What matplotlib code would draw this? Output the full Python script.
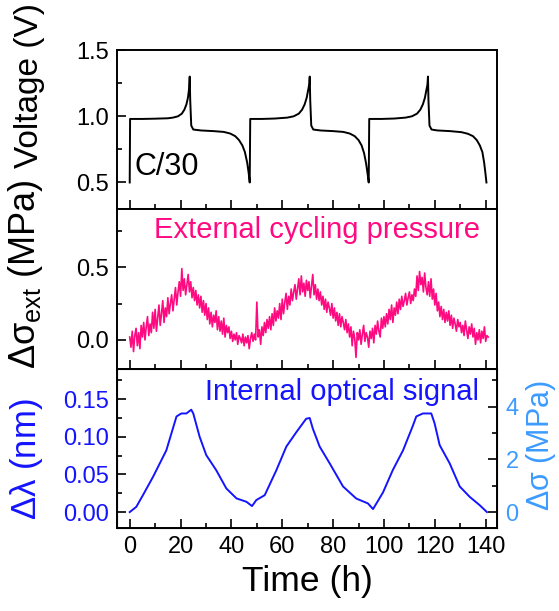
import matplotlib
matplotlib.use("Agg")
import matplotlib.pyplot as plt
from matplotlib.ticker import MultipleLocator
import numpy as np

plt.rcParams['font.family'] = ['Liberation Sans', 'DejaVu Sans']
plt.rcParams['mathtext.fontset'] = 'custom'
plt.rcParams['mathtext.rm'] = 'Liberation Sans'
plt.rcParams['mathtext.it'] = 'Liberation Sans'

# --- voltage (V) vs time (h)
t_volt = [0, 0.15, 5, 10, 15, 17, 19, 20.5, 21.5, 22.3, 22.9, 23.3, 23.6, 23.8, 24.2, 25,
          28, 33, 37, 39.5, 41.5, 43, 44.3, 45.3, 46.2, 46.8, 47.2,
          47.4, 52, 57, 62, 64.5, 66.5, 67.8, 68.8, 69.6, 70.2, 70.6, 70.8, 71.0, 71.4, 72.2,
          75, 80, 84, 86.5, 88.5, 90, 91.2, 92.2, 93.0, 93.6, 94.0,
          94.2, 99, 104, 108.5, 111, 113, 114.3, 115.3, 116.1, 116.7, 117.1, 117.3, 117.5, 117.9, 118.7,
          121, 126, 130.5, 133, 135, 136.5, 137.7, 138.7, 139.4, 139.9, 140.3]
volt = [0.50, 0.98, 0.98, 0.982, 0.985, 0.99, 1.0, 1.02, 1.05, 1.09, 1.14, 1.2, 1.30, 1.12, 0.93, 0.90,
        0.893, 0.888, 0.882, 0.87, 0.85, 0.82, 0.78, 0.73, 0.65, 0.57, 0.50,
        0.98, 0.98, 0.983, 0.99, 1.0, 1.02, 1.05, 1.09, 1.14, 1.2, 1.24, 1.30, 1.12, 0.93, 0.90,
        0.893, 0.888, 0.882, 0.87, 0.85, 0.82, 0.78, 0.72, 0.64, 0.56, 0.50,
        0.98, 0.98, 0.983, 0.99, 1.0, 1.02, 1.05, 1.09, 1.14, 1.2, 1.24, 1.30, 1.12, 0.93, 0.90,
        0.893, 0.888, 0.88, 0.868, 0.85, 0.82, 0.78, 0.73, 0.65, 0.57, 0.50]

# --- external cycling pressure (MPa), sampled every 0.5 h
t_ext = np.arange(0, 141.01, 0.5)
p_ext = [0.02, -0.05, 0.06, -0.08, 0.03, 0.08, -0.04, 0.05, -0.06, 0.10,
         0.02, 0.12, 0.00, 0.09, 0.16, 0.03, 0.11, 0.05, 0.19, 0.08,
         0.21, 0.06, 0.15, 0.24, 0.10, 0.18, 0.27, 0.12, 0.22, 0.16,
         0.29, 0.18, 0.25, 0.31, 0.20, 0.28, 0.36, 0.24, 0.33, 0.40,
         0.30, 0.49, 0.34, 0.42, 0.31, 0.38, 0.45, 0.33, 0.40, 0.29,
         0.36, 0.27, 0.34, 0.24, 0.31, 0.22, 0.30, 0.19, 0.27, 0.17,
         0.25, 0.14, 0.22, 0.11, 0.19, 0.09, 0.17, 0.12, 0.20, 0.07,
         0.16, 0.06, 0.13, 0.04, 0.15, 0.02, 0.10, 0.05, 0.09, 0.01,
         0.06, -0.01, 0.04, 0.00, 0.05, -0.03, 0.03, 0.01, -0.02, 0.04,
         -0.04, 0.02, -0.02, 0.03, -0.06, 0.01, 0.05, -0.01, 0.04, 0.00,
         0.26, 0.02, 0.07, -0.03, 0.09, 0.03, 0.12, 0.05, 0.14, 0.08,
         0.16, 0.07, 0.18, 0.10, 0.22, 0.13, 0.20, 0.15, 0.25, 0.14,
         0.28, 0.18, 0.26, 0.32, 0.21, 0.30, 0.24, 0.35, 0.27, 0.33,
         0.38, 0.28, 0.35, 0.42, 0.31, 0.44, 0.33, 0.39, 0.30, 0.41,
         0.34, 0.40, 0.29, 0.37, 0.45, 0.31, 0.38, 0.28, 0.35, 0.27,
         0.33, 0.24, 0.30, 0.21, 0.28, 0.19, 0.26, 0.22, 0.17, 0.25,
         0.15, 0.22, 0.13, 0.19, 0.10, 0.18, 0.09, 0.16, 0.12, 0.07,
         0.14, 0.05, 0.11, 0.02, 0.09, -0.04, 0.06, 0.01, -0.12, 0.05,
         0.00, 0.07, -0.03, 0.04, 0.10, -0.01, 0.05, 0.02, -0.05, 0.06,
         0.01, 0.08, -0.02, 0.10, 0.04, 0.13, 0.06, 0.02, 0.15, 0.08,
         0.16, 0.09, 0.18, 0.11, 0.21, 0.14, 0.24, 0.12, 0.22, 0.17,
         0.26, 0.18, 0.28, 0.21, 0.30, 0.23, 0.27, 0.32, 0.24, 0.29,
         0.33, 0.25, 0.31, 0.27, 0.35, 0.30, 0.44, 0.34, 0.47, 0.38,
         0.43, 0.33, 0.46, 0.36, 0.31, 0.40, 0.30, 0.42, 0.28, 0.35,
         0.24, 0.32, 0.20, 0.26, 0.16, 0.23, 0.14, 0.21, 0.12, 0.19,
         0.13, 0.20, 0.10, 0.17, 0.08, 0.15, 0.11, 0.06, 0.14, 0.09,
         0.12, 0.05, 0.10, 0.03, 0.13, 0.07, 0.01, 0.09, 0.04, 0.11,
         0.02, 0.08, -0.03, 0.05, 0.00, 0.07, -0.02, 0.06, 0.01, 0.09,
         -0.01, 0.03, 0.02]

# --- internal optical signal, wavelength shift (nm)
t_opt = [0, 2.6, 5.2, 9.2, 14.4, 18.4, 20.3, 22.3, 24.2, 25.0, 27.5, 30.1, 34.0, 38.0, 42.0,
         45.9, 48.1, 49.8, 53.1, 57.7, 61.6, 65.5, 69.4, 70.8, 72.0, 74.7, 78.6, 83.9, 89.1,
         93.7, 95.7, 99.6, 103.5, 107.5, 111.4, 112.7, 115.3, 118.6, 119.9, 121.9, 125.8,
         129.8, 133.7, 137.6, 140.5]
d_lambda = [0.000, 0.007, 0.0225, 0.047, 0.082, 0.127, 0.131, 0.131, 0.136, 0.131, 0.100,
            0.0757, 0.0558, 0.0314, 0.0182, 0.0137, 0.008, 0.016, 0.0225, 0.0558, 0.087,
            0.106, 0.124, 0.125, 0.111, 0.087, 0.065, 0.034, 0.018, 0.0115, 0.004, 0.026,
            0.056, 0.082, 0.115, 0.127, 0.131, 0.131, 0.118, 0.089, 0.065, 0.034, 0.0203,
            0.0093, 0.000]

pink = '#ff0a80'
blue = '#1414ff'
lblue = '#3d9bff'

fig = plt.figure(figsize=(5.59, 6.11), dpi=100)
L, W = 0.2093, 0.680
ax1 = fig.add_axes([L, 0.658, W, 0.260])
ax2 = fig.add_axes([L, 0.396, W, 0.262])
ax3 = fig.add_axes([L, 0.136, W, 0.260])

for ax in (ax1, ax2, ax3):
    ax.set_xlim(-5, 144.5)
    ax.xaxis.set_major_locator(MultipleLocator(20))
    ax.xaxis.set_minor_locator(MultipleLocator(10))
    ax.tick_params(which='both', direction='in', top=False, right=False,
                   labelsize=17, width=1.2, pad=6)
    ax.tick_params(which='major', length=6.5)
    ax.tick_params(which='minor', length=3.5)
    for s in ax.spines.values():
        s.set_linewidth(1.4)

ax1.plot(t_volt, volt, color='black', lw=1.4)
ax1.set_ylim(0.3, 1.5)
ax1.yaxis.set_major_locator(MultipleLocator(0.5))
ax1.yaxis.set_minor_locator(MultipleLocator(0.25))
ax1.tick_params(labelbottom=False)
ax1.set_ylabel('Voltage (V)', fontsize=24)
ax1.yaxis.set_label_coords(-0.19, 0.78)
ax1.text(2, 0.5, 'C/30', fontsize=22, ha='left', va='bottom')

ax2.plot(t_ext, p_ext, color=pink, lw=1.2)
ax2.set_ylim(-0.2, 0.9)
ax2.yaxis.set_major_locator(MultipleLocator(0.5))
ax2.yaxis.set_minor_locator(MultipleLocator(0.25))
ax2.tick_params(labelbottom=False)
ax2.set_ylabel(r'$\Delta\sigma_{\rm ext}$ (MPa)', fontsize=26)
ax2.yaxis.set_label_coords(-0.19, 0.59)
ax2.text(73.5, 0.70, 'External cycling pressure', fontsize=21, color=pink,
         ha='center', va='baseline')

ax3.plot(t_opt, d_lambda, color=blue, lw=1.4)
ax3.set_ylim(-0.021, 0.19)
ax3.yaxis.set_major_locator(MultipleLocator(0.05))
ax3.yaxis.set_minor_locator(MultipleLocator(0.025))
ax3.tick_params(axis='y', labelcolor=blue)
ax3.set_ylabel(r'$\Delta\lambda$ (nm)', fontsize=25, color=blue)
ax3.yaxis.set_label_coords(-0.19, 0.43)
ax3.set_xlabel('Time (h)', fontsize=25.5, labelpad=5)
ax3.text(83.4, 0.149, 'Internal optical signal', fontsize=21, color=blue,
         ha='center', va='baseline')

ax4 = ax3.twinx()
ax4.set_ylim(-0.6, 5.42)
ax4.yaxis.set_major_locator(MultipleLocator(2))
ax4.yaxis.set_minor_locator(MultipleLocator(1))
ax4.tick_params(which='both', direction='in', labelsize=17, width=1.2, pad=6,
                labelcolor=lblue)
ax4.tick_params(which='major', length=6.5)
ax4.tick_params(which='minor', length=3.5)
ax4.set_ylabel(r'$\Delta\sigma$ (MPa)', fontsize=22, color=lblue)
ax4.yaxis.set_label_coords(1.07, 0.52)

fig.savefig('out.png', dpi=100)
